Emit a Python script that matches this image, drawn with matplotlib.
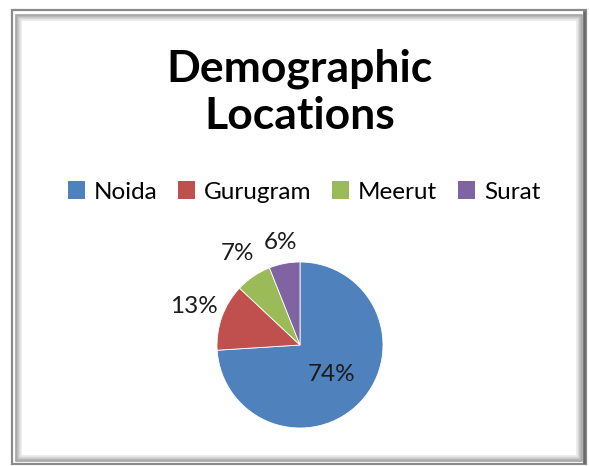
import matplotlib.pyplot as plt
from matplotlib.patches import Rectangle, Patch
import numpy as np

# data
locations = ['Noida', 'Gurugram', 'Meerut', 'Surat']
shares = [74, 13, 7, 6]
colors = ['#4F81BD', '#C0504D', '#9BBB59', '#8064A2']
title = 'Demographic\nLocations'

W, H = 589, 466
fig = plt.figure(figsize=(W / 100, H / 100), dpi=100)
fig.patch.set_facecolor('white')

def px_rect(x0, y0, x1, y1, **kw):
	# rectangle in pixel coords, y measured from the top
	r = Rectangle((x0 / W, 1 - y1 / H), (x1 - x0) / W, (y1 - y0) / H,
				  transform=fig.transFigure, fill=False, **kw)
	fig.add_artist(r)

# beveled frame like the excel chart border
px_rect(12, 10, 586, 464, edgecolor='#8a8a8a', lw=1.6)
greys = ['#9a9a9a', '#a8a8a8', '#b8b8b8', '#c8c8c8', '#d8d8d8', '#e8e8e8']
for i, g in enumerate(greys):
	px_rect(16 + i, 15 + i, 582 - i, 461 - i, edgecolor=g, lw=1.1)
# darker right edge
fig.add_artist(plt.Line2D([584 / W, 584 / W], [1 - 462 / H, 1 - 12 / H],
						  transform=fig.transFigure, color='#6a6a6a', lw=2))

fig.text(300 / W, 1 - 92 / H, title, ha='center', va='center',
		 fontsize=32, fontweight='bold', family='Lato', linespacing=1.2)

handles = [Patch(facecolor=c, edgecolor='none') for c in colors]
fig.legend(handles, locations, loc='center', bbox_to_anchor=(304 / W, 1 - 192 / H),
		   ncol=4, frameon=False, prop={'family': 'Lato', 'size': 17.5},
		   handlelength=0.7, handleheight=0.7, handletextpad=0.35,
		   columnspacing=0.87)

# pie axes: center (300, 345) px, radius 83 px
cx, cy, r = 300, 345, 83
ax = fig.add_axes([(cx - r) / W, 1 - (cy + r) / H, 2 * r / W, 2 * r / H])
wedges, _ = ax.pie(shares, colors=colors, startangle=90, counterclock=False,
				   wedgeprops={'edgecolor': 'white', 'linewidth': 0.6})
ax.set_xlim(-1, 1)
ax.set_ylim(-1, 1)
ax.axis('off')

dists = [0.52, 1.36, 1.33, 1.26]
for w, s, d in zip(wedges, shares, dists):
	ang = np.deg2rad((w.theta1 + w.theta2) / 2)
	ax.text(d * np.cos(ang), d * np.sin(ang), '%d%%' % s, ha='center', va='center',
			fontsize=17.5, family='Lato', color='#1a1a1a', clip_on=False)

fig.savefig('out.png', dpi=100)
